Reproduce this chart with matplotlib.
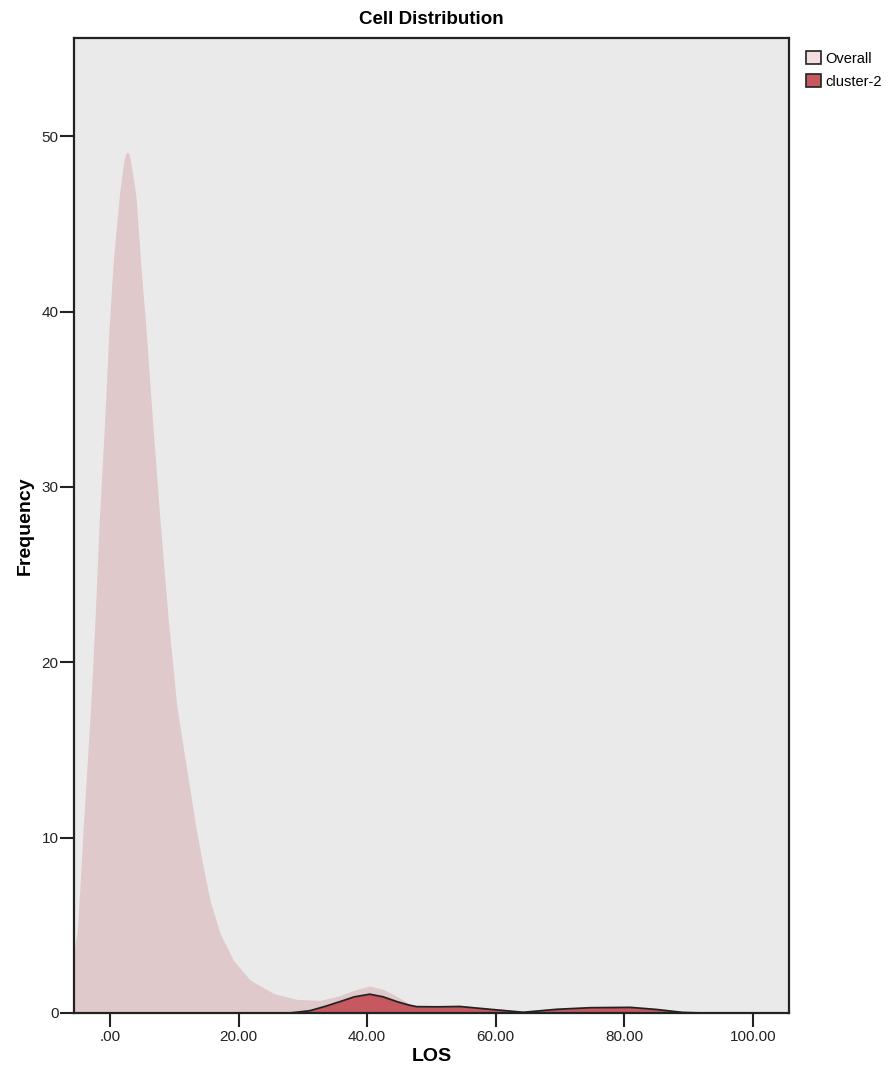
import numpy as np
import matplotlib.pyplot as plt
from matplotlib.patches import Patch

plt.rcParams['font.family'] = ['Liberation Sans', 'DejaVu Sans']

# Overall distribution (LOS vs frequency)
overall_x = [-5.6, -5.1, -4.7, -4.25, -3.0, -2.33, -1.66, -0.85, -0.15, 0.5, 1.45, 1.9,
             2.2, 2.45, 2.7, 2.95, 3.16, 3.5, 4.04, 4.77, 5.6, 6.65, 7.78, 9.07, 10.4,
             11.5, 12.5, 13.4, 14.4, 15.55, 17.1, 19.2, 21.8, 25.4, 29.0, 32.7, 35.8,
             38.0, 40.4, 42.5, 44.6, 46.5, 47.7, 51.0, 54.4, 59.1, 64.3, 69.5, 74.7,
             80.9, 85.0, 89.1, 92.0, 105.6]
overall_y = [3.5, 4.6, 7.0, 10.0, 17.5, 22.4, 28.1, 33.6, 39.0, 42.8, 46.6, 47.9,
             48.66, 49.0, 49.1, 49.0, 48.66, 47.9, 46.6, 42.8, 39.0, 33.6, 28.1, 22.4, 17.5,
             14.9, 12.6, 10.5, 8.5, 6.45, 4.55, 3.0, 1.88, 1.12, 0.78, 0.72, 1.0,
             1.3, 1.54, 1.35, 0.95, 0.55, 0.38, 0.36, 0.37, 0.21, 0.04, 0.21, 0.3,
             0.32, 0.2, 0.03, 0.0, 0.0]

# cluster-2 distribution
cluster_x = [-5.6, 28.0, 31.1, 33.5, 35.8, 38.0, 40.4, 42.5, 44.6, 46.5, 47.7, 51.0, 54.4,
             59.1, 64.3, 69.5, 74.7, 80.9, 85.0, 89.1, 92.0, 105.6]
cluster_y = [0.0, 0.0, 0.13, 0.38, 0.65, 0.92, 1.07, 0.92, 0.65, 0.45, 0.36, 0.35, 0.37,
             0.21, 0.04, 0.21, 0.3, 0.32, 0.2, 0.03, 0.0, 0.0]

x_ticks = [0, 20, 40, 60, 80, 100]
x_labels = ['.00', '20.00', '40.00', '60.00', '80.00', '100.00']
y_ticks = [0, 10, 20, 30, 40, 50]

fig = plt.figure(figsize=(8.9, 10.74), dpi=100)
ax = fig.add_axes([0.0831, 0.0568, 0.8034, 0.9078])
ax.set_facecolor('#EAEAEA')

ax.fill_between(overall_x, overall_y, 0, color='#E0C9CB', lw=0)
ax.fill_between(cluster_x, cluster_y, 0, color='#C8585F', lw=0)
ax.plot(cluster_x, cluster_y, color='#222222', lw=1.3)

ax.set_xlim(-5.6, 105.6)
ax.set_ylim(0, 55.6)
ax.set_xticks(x_ticks)
ax.set_xticklabels(x_labels)
ax.set_yticks(y_ticks)
ax.tick_params(axis='x', length=10, width=1.5, labelsize=11, pad=2, colors='#222222')
ax.tick_params(axis='y', length=10, width=1.5, labelsize=11, pad=1, colors='#222222')
for s in ax.spines.values():
    s.set_linewidth(1.6)
    s.set_color('#222222')

ax.set_title('Cell Distribution', fontsize=13.5, fontweight='bold', pad=10)
ax.set_xlabel('LOS', fontsize=14, fontweight='bold', labelpad=3)
ax.set_ylabel('Frequency', fontsize=14, fontweight='bold', labelpad=6)

# legend outside the plot, top right
handles = [Patch(facecolor='#F2DEE0', edgecolor='#222222', lw=1.2),
           Patch(facecolor='#C8585F', edgecolor='#222222', lw=1.2)]
ax.legend(handles, ['Overall', 'cluster-2'], loc='upper left', bbox_to_anchor=(1.01, 0.997),
          frameon=False, fontsize=10.5, handlelength=1.0, handleheight=1.0,
          handletextpad=0.3, labelspacing=0.6, borderaxespad=0.3)

fig.savefig('out.png', dpi=100)
